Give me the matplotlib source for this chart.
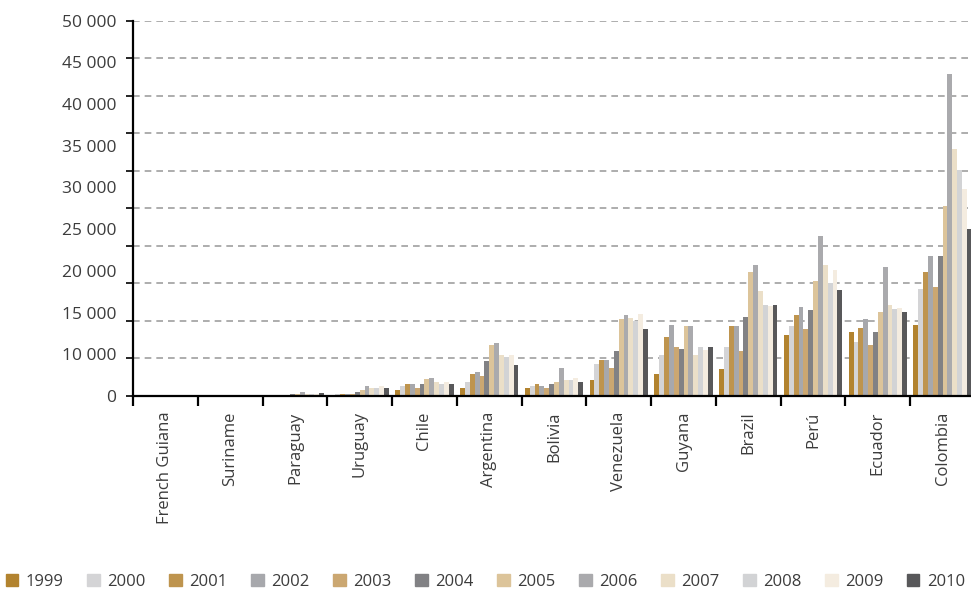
import matplotlib
matplotlib.use("Agg")
import matplotlib.pyplot as plt
import numpy as np

countries = ["French Guiana", "Suriname", "Paraguay", "Uruguay", "Chile", "Argentina",
             "Bolivia", "Venezuela", "Guyana", "Brazil", "Perú", "Ecuador", "Colombia"]
years = ["1999", "2000", "2001", "2002", "2003", "2004",
         "2005", "2006", "2007", "2008", "2009", "2010"]

# values per country, one entry per year 1999..2010
fr_guiana = [0, 0, 0, 0, 0, 0, 0, 0, 0, 0, 0, 0]
suriname  = [0, 0, 0, 0, 0, 0, 0, 0, 0, 0, 0, 0]
paraguay  = [0, 0, 0, 0, 0, 310, 270, 580, 310, 310, 310, 400]
uruguay   = [0, 310, 310, 310, 310, 580, 845, 1380, 1110, 1110, 1380, 1110]
chile     = [845, 1380, 1640, 1640, 1110, 1640, 2310, 2440, 1910, 1640, 1910, 1640]
argentina = [1110, 1910, 2975, 3240, 2710, 4710, 6840, 7100, 5510, 5240, 5510, 4170]
bolivia   = [1110, 1380, 1640, 1380, 1110, 1640, 1910, 3770, 2180, 2180, 2440, 1910]
venezuela = [2180, 4310, 4840, 4840, 3770, 6040, 10300, 10830, 10430, 10030, 10970, 8970]
guyana    = [2980, 5520, 7920, 9520, 6590, 6320, 9260, 9260, 5520, 6590, 6190, 6590]
brazil    = [3650, 6590, 9260, 9260, 6050, 10460, 16470, 17400, 13930, 12060, 11930, 12060]
peru      = [8190, 9260, 10730, 11790, 8990, 11390, 15260, 21270, 17400, 15000, 16730, 14060]
ecuador   = [8590, 7250, 9120, 10320, 6850, 8460, 11130, 17130, 12060, 11530, 11660, 11130]
colombia  = [9520, 14200, 16470, 18600, 14460, 18600, 25300, 42950, 32840, 30130, 27540, 22300]

data = np.array([fr_guiana, suriname, paraguay, uruguay, chile, argentina, bolivia,
                 venezuela, guyana, brazil, peru, ecuador, colombia])

colors = ["#B2832F", "#D4D4D6", "#BE944E", "#A7A8AC", "#CBA771", "#818184",
          "#DCC49A", "#AAAAAD", "#EBDFC8", "#D2D3D5", "#F4ECE0", "#58585A"]

grid_vals = list(range(0, 50001, 5000))
ylabels = ["0", "10 000", "15 000", "20 000", "25 000", "30 000",
           "35 000", "40 000", "45 000", "50 000"]

plt.rcParams['font.family'] = ['Open Sans', 'DejaVu Sans']
txt_color = "#3C3C3C"

fig = plt.figure(figsize=(9.71, 5.94), dpi=100)
ax = fig.add_axes([133/971, 1/3, (975-133)/971, 0.632])

n_c, n_y = data.shape
group_w = 0.9
bw = group_w / n_y
x = np.arange(n_c)
for j in range(n_y):
    ax.bar(x - group_w/2 + bw*(j+0.5), data[:, j], width=bw, color=colors[j],
           linewidth=0, label=years[j], zorder=2)

ax.set_xlim(-0.5, n_c - 0.5)
ax.set_ylim(0, 50000)

# x axis: ticks at category boundaries, labels at centers
ax.set_xticks(np.arange(-0.5, n_c, 1.0))
ax.set_xticklabels([])
ax.set_xticks(x, minor=True)
ax.set_xticklabels(countries, minor=True, rotation=90, fontsize=12,
                   color=txt_color, va='top')
ax.tick_params(axis='x', which='major', length=7, width=1.6, direction='out', color='black')
ax.tick_params(axis='x', which='minor', length=0, pad=11)

# y axis: tick marks/gridlines every 5000, labels spaced as in the reference
ax.yaxis.remove_overlapping_locs = False
ax.set_yticks(grid_vals)
ax.set_yticklabels([])
label_pos = np.linspace(0, 50000, len(ylabels))
ax.set_yticks(label_pos, minor=True)
ax.set_yticklabels(ylabels, minor=True, fontsize=12.5, color=txt_color)
ax.tick_params(axis='y', which='major', length=5, width=1.2, direction='out', color='black')
ax.tick_params(axis='y', which='minor', length=0, pad=12)

ax.yaxis.grid(True, which='major', color='#A0A0A0', linestyle=(0, (4, 3)), linewidth=1.2)
ax.set_axisbelow(True)

for s in ['top', 'right']:
    ax.spines[s].set_visible(False)
ax.spines['left'].set_linewidth(1.6)
ax.spines['bottom'].set_linewidth(1.6)

handles = [plt.Rectangle((0, 0), 1, 1, color=c) for c in colors]
leg = fig.legend(handles, years, loc='center', bbox_to_anchor=(0.5, 0.02),
                 ncol=12, frameon=False, fontsize=12, handlelength=0.75, handleheight=0.75,
                 handletextpad=0.45, columnspacing=1.42, borderaxespad=0, borderpad=0)
for t in leg.get_texts():
    t.set_color(txt_color)

fig.savefig("out.png", dpi=100)
